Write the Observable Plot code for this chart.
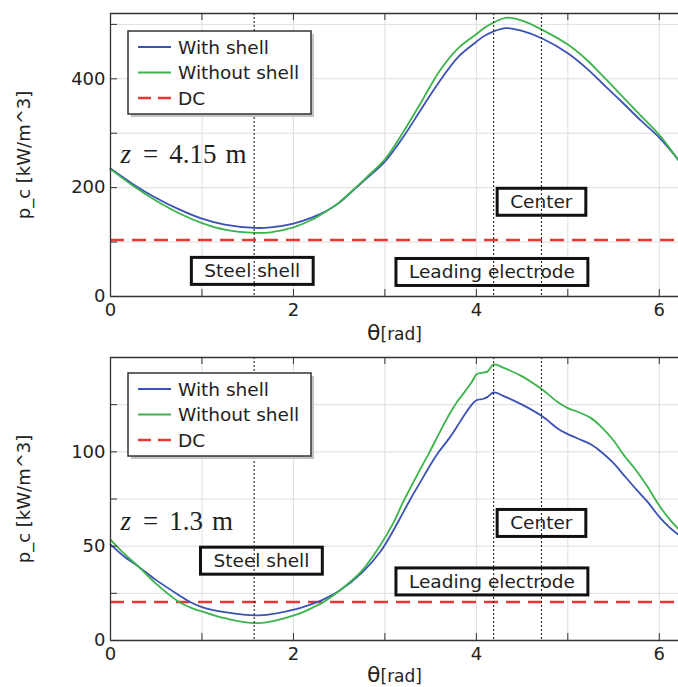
<!DOCTYPE html>
<html><head><meta charset="utf-8">
<script src="https://cdn.jsdelivr.net/npm/d3@7"></script>
<script src="https://cdn.jsdelivr.net/npm/@observablehq/plot@0.6"></script>
<style>
html,body{margin:0;padding:0;background:#fff;}
body{width:678px;height:687px;overflow:hidden;}
#chart svg{display:block;}
</style></head><body><div id="chart"></div>
<script>
// ---------- data ----------
const seriesNames = ["With shell", "Without shell", "DC"];
const seriesColors = ["#3a52b5", "#3cb44b", "#e53935"];
const seriesDash = [null, null, "13,7"];

const thetaTop = [0, 0.25, 0.5, 0.75, 1.0, 1.25, 1.58, 1.75, 2.0, 2.2, 2.37, 2.5, 2.68, 2.8, 3.0, 3.2, 3.4, 3.6, 3.8, 4.0, 4.1, 4.32, 4.5, 4.72, 5.0, 5.2, 5.4, 5.6, 5.8, 6.0, 6.21];
const withShellTop = [235, 206, 181, 160, 143, 132, 126, 127, 134, 145, 158, 172, 199, 217, 248, 293, 345, 396, 440, 468, 480, 493, 488, 474, 447, 420, 388, 356, 323, 292, 251];
const withoutShellTop = [234, 203, 176, 153, 135, 123, 117, 118, 127, 141, 158, 173, 200, 219, 252, 302, 358, 415, 456, 482, 495, 512, 507, 490, 463, 436, 402, 367, 332, 297, 250];
const dcTop = 104;

const thetaBottom = [0, 0.15, 0.31, 0.5, 0.75, 0.87, 1.0, 1.25, 1.62, 2.04, 2.26, 2.33, 2.51, 2.75, 2.95, 3.1, 3.19, 3.28, 3.4, 3.49, 3.59, 3.7, 3.79, 3.86, 3.95, 4.0, 4.07, 4.12, 4.19, 4.3, 4.5, 4.72, 4.9, 5.0, 5.14, 5.25, 5.36, 5.5, 5.61, 5.75, 5.87, 6.0, 6.1, 6.21];
const withShellBottom = [51, 44.5, 39, 32, 24, 20.4, 17.7, 15, 13.3, 16.8, 20.4, 21.8, 26.6, 36, 47, 59, 67, 75, 85, 92.5, 100, 107, 113.5, 118.8, 125, 127.3, 128, 129, 131.5, 129.5, 125, 118.8, 112, 109.4, 106.4, 104, 100.2, 94, 87.8, 80, 73.6, 65.5, 60.5, 56];
const withoutShellBottom = [53.5, 46, 39, 30, 20.4, 17.6, 15.4, 11.8, 9.2, 13.8, 18.6, 20.4, 26.6, 37, 50.5, 63, 72.5, 81, 92, 100, 109.5, 119.5, 126.5, 131, 137, 141, 142, 142.5, 146.3, 144.5, 140, 133, 126, 123.2, 120.6, 118, 113.5, 106, 98.4, 90, 81.6, 71.5, 65, 59];
const dcBottom = 20.4;

const markerTheta = [1.571, 4.189, 4.712];
const boxNames = ["Steel shell", "Center", "Leading electrode"];
const boxXTop = [1.55, 4.71, 4.17];
const boxYTop = [46, 173, 44];
const boxXBottom = [1.65, 4.71, 4.17];
const boxYBottom = [42, 62, 31];
const zValueTop = "4.15", zValueBottom = "1.3";
const zLabelX = 0.11, zLabelYTop = 245, zLabelYBottom = 58.5;

const xTicks = [0, 1, 2, 3, 4, 5, 6];
const xTickLabels = [0, 2, 4, 6];
const yTicksTop = [0, 100, 200, 300, 400, 500];
const yTickLabelsTop = [0, 200, 400];
const yTicksBottom = [0, 25, 50, 75, 100, 125];
const yTickLabelsBottom = [0, 50, 100];
const xLabel = "θ[rad]";
const yLabel = "p_c [kW/m^3]";

// ---------- drawing ----------
const W = 678, ML = 110, MR = 0;
const BOX_FILL = "#1e1e1e", Z_FILL = "#1f1f1f";
function panel(o) {
  const rows = o.theta.map((t, i) => ({t, v: o.withShell[i], s: seriesNames[0]}))
    .concat(o.theta.map((t, i) => ({t, v: o.withoutShell[i], s: seriesNames[1]})));
  const boxes = boxNames.map((n, i) => ({n, x: o.boxX[i], y: o.boxY[i]}));
  const plotW = W - ML - MR, plotH = o.height - o.mt - o.mb;
  const frame = {stroke: "#333", strokeWidth: 1.3};
  return Plot.plot({
    width: W, height: o.height,
    marginLeft: ML, marginRight: MR, marginTop: o.mt, marginBottom: o.mb,
    style: {fontFamily: "'DejaVu Sans', sans-serif", fontSize: "18px", color: "#222", background: "white"},
    x: {domain: [0, 6.21]},
    y: {domain: [0, o.yMax]},
    color: {domain: seriesNames, range: seriesColors},
    marks: [
      Plot.gridX(xTicks, {stroke: "#dedede", strokeOpacity: 1}),
      Plot.gridY(o.yTicks, {stroke: "#dedede", strokeOpacity: 1}),
      Plot.ruleY([o.dc], {stroke: seriesColors[2], strokeWidth: 2.5, strokeDasharray: "14,8"}),
      Plot.line(rows, {x: "t", y: "v", z: "s", stroke: "s", strokeWidth: 1.8, curve: "catmull-rom"}),
      Plot.text(boxes, {x: "x", y: "y", text: "n", ariaDescription: "boxed-label", fill: BOX_FILL, fontSize: 18.5}),
      Plot.ruleX(markerTheta, {stroke: "#222", strokeDasharray: "2,2", strokeWidth: 1.1}),
      Plot.text([o.zValue], {x: () => zLabelX, y: () => o.zY, text: d => d, ariaDescription: "z-label", textAnchor: "start", lineAnchor: "bottom", fill: Z_FILL}),
      Plot.ruleX([0], frame),
      Plot.ruleY([0], frame),
      Plot.ruleY([o.yMax], frame),
      Plot.tickY(o.yTicks, {y: d => d, insetRight: plotW - 7, stroke: "#333"}),
      Plot.tickX(xTicks, {x: d => d, insetTop: plotH - 7, stroke: "#333"}),
      Plot.tickX(xTicks, {x: d => d, insetBottom: plotH - 7, stroke: "#333"}),
      Plot.axisX({ticks: xTickLabels, tickSize: 0, tickPadding: 7, tickFormat: d => String(d), label: xLabel, labelAnchor: "center", labelOffset: o.xLabelOffset, labelArrow: "none"}),
      Plot.axisY({ticks: o.yTickLabels, tickSize: 0, tickPadding: 5, tickFormat: d => String(d), label: yLabel, labelAnchor: "center", labelOffset: 93, labelArrow: "none"})
    ]
  });
}

function decorate(svg, zValue, legendTop) {
  const s = d3.select(svg);
  s.selectAll(`g[aria-description="boxed-label"] text, g[fill="${BOX_FILL}"] text`).each(function () {
    if (this.__boxed) return; this.__boxed = true;
    const b = this.getBBox();
    const r = document.createElementNS("http://www.w3.org/2000/svg", "rect");
    r.setAttribute("x", b.x - 13); r.setAttribute("y", b.y - 3);
    r.setAttribute("width", b.width + 26); r.setAttribute("height", b.height + 6);
    r.setAttribute("fill", "white"); r.setAttribute("stroke", "#111"); r.setAttribute("stroke-width", 3);
    const tr = this.getAttribute("transform"); if (tr) r.setAttribute("transform", tr);
    this.parentNode.insertBefore(r, this);
  });
  s.selectAll(`g[aria-description="z-label"] text, g[fill="${Z_FILL}"] text`).each(function () {
    if (this.__z) return; this.__z = true;
    const t = d3.select(this).text("").style("font-family", "'Liberation Serif', serif").style("font-size", "27px");
    t.append("tspan").style("font-style", "italic").text("z");
    t.append("tspan").attr("dx", 12).text("=");
    t.append("tspan").attr("dx", 11).text(zValue);
    t.append("tspan").attr("dx", 9).text("m");
  });
  s.selectAll("text").filter(function () { return this.textContent === xLabel; }).each(function () {
    const t = d3.select(this).text("");
    t.append("tspan").style("font-size", "22px").text("θ");
    t.append("tspan").style("font-size", "17px").text("[rad]");
  });
  const g = s.append("g").attr("transform", `translate(128,${legendTop})`);
  g.append("rect").attr("x", 3).attr("y", 3).attr("width", 183).attr("height", 83).attr("fill", "#c4c4c4");
  g.append("rect").attr("width", 183).attr("height", 83).attr("fill", "white").attr("stroke", "#333").attr("stroke-width", 1.5);
  seriesNames.forEach((n, i) => {
    const cy = 16 + i * 25.5;
    g.append("line").attr("x1", 10).attr("x2", 43).attr("y1", cy).attr("y2", cy)
      .attr("stroke", seriesColors[i]).attr("stroke-width", i === 2 ? 2.5 : 2)
      .attr("stroke-dasharray", seriesDash[i]);
    g.append("text").attr("x", 50).attr("y", cy).attr("dy", "0.36em").attr("text-anchor", "start")
      .attr("font-family", "'DejaVu Sans', sans-serif").attr("font-size", 18.5).attr("fill", "#222").text(n);
  });
}

const chart = document.getElementById("chart");
const topSvg = panel({theta: thetaTop, withShell: withShellTop, withoutShell: withoutShellTop, dc: dcTop,
  yMax: 520, yTicks: yTicksTop, yTickLabels: yTickLabelsTop, boxX: boxXTop, boxY: boxYTop,
  zValue: zValueTop, zY: zLabelYTop, height: 345, mt: 13, mb: 49, xLabelOffset: 43});
chart.appendChild(topSvg);
decorate(topSvg, zValueTop, 31);
const bottomSvg = panel({theta: thetaBottom, withShell: withShellBottom, withoutShell: withoutShellBottom, dc: dcBottom,
  yMax: 150, yTicks: yTicksBottom, yTickLabels: yTickLabelsBottom, boxX: boxXBottom, boxY: boxYBottom,
  zValue: zValueBottom, zY: zLabelYBottom, height: 342, mt: 12, mb: 47, xLabelOffset: 41});
chart.appendChild(bottomSvg);
decorate(bottomSvg, zValueBottom, 28);
</script>
</body></html>
